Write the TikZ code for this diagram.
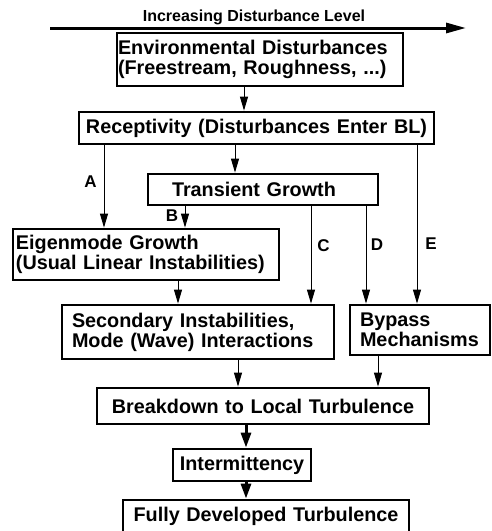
\documentclass[tikz,border=0pt]{standalone}
\usepackage{fontspec}
\setmainfont{Liberation Sans}
\usetikzlibrary{arrows.meta}
\begin{document}
\begin{tikzpicture}[x=1pt,y=-1pt,
  box/.style={draw, line width=2.8pt, font=\fontsize{19.8}{20}\selectfont\bfseries, inner ysep=0pt},
  conn/.style={line width=1pt, -{Triangle[length=14pt,width=8pt]}},
  thickconn/.style={line width=3pt, -{Triangle[length=15pt,width=10pt]}},
  lbl/.style={font=\fontsize{17}{17}\selectfont\bfseries, inner sep=0pt}]
\useasboundingbox (0,0) rectangle (491,531);
\clip (0,0) rectangle (491,531);

% top arrow
\node[font=\fontsize{16}{16}\selectfont\bfseries, inner sep=0pt] (title) at (254,17) {Increasing Disturbance Level};
\coordinate (ta) at (50,28);
\coordinate (tb) at (466,28);
\draw[line width=3pt, -{Triangle[length=20pt,width=10pt]}] (ta) -- (tb);

% boxes
\node[box, minimum height=53pt, text width=284pt, inner xsep=1pt, align=left] (env) at (260,59.5)
  {Environmental Disturbances\\(Freestream, Roughness, ...)};
\node[box, minimum height=32pt, text width=353pt, inner xsep=1pt, align=center] (rec) at (256.5,128)
  {Receptivity (Disturbances Enter BL)};
\node[box, minimum height=31pt, text width=182pt, inner xsep=24pt, align=left] (tra) at (263,189.5)
  {Transient Growth};
\node[box, minimum height=51pt, text width=260pt, inner xsep=3pt, align=left] (eig) at (146,254.5)
  {Eigenmode Growth\\(Usual Linear Instabilities)};
\node[box, minimum height=54pt, text width=252pt, inner xsep=10pt, align=left] (sec) at (198,332)
  {Secondary Instabilities,\\Mode (Wave) Interactions};
\node[box, minimum height=50pt, text width=120pt, inner xsep=10pt, align=left] (byp) at (420,330)
  {Bypass\\Mechanisms};
\node[box, minimum height=36pt, text width=330pt, inner xsep=1pt, align=center] (brk) at (263,406)
  {Breakdown to Local Turbulence};
\node[box, minimum height=32pt, text width=136pt, inner xsep=1pt, align=center] (int) at (242,465)
  {Intermittency};
\node[box, minimum height=33pt, text width=284pt, inner xsep=1pt, align=center] (ful) at (266,516.5)
  {Fully Developed Turbulence};

% connector x positions
\coordinate (xEnv) at (244,0);
\coordinate (xR) at (235,0);
\coordinate (xA) at (104,0);
\coordinate (xB) at (185,0);
\coordinate (xC) at (311,0);
\coordinate (xD) at (366,0);
\coordinate (xE) at (417,0);
\coordinate (xEig) at (178,0);
\coordinate (xS) at (238,0);
\coordinate (xBy) at (378,0);
\coordinate (xBr) at (246,0);

\draw[conn] (env.south -| xEnv) -- (rec.north -| xEnv);
\draw[conn] (rec.south -| xR) -- (tra.north -| xR);
\draw[conn] (rec.south -| xA) -- (eig.north -| xA);
\draw[conn] (tra.south -| xB) -- (eig.north -| xB);
\draw[conn] (tra.south -| xC) -- (sec.north -| xC);
\draw[conn] (tra.south -| xD) -- (byp.north -| xD);
\draw[conn] (rec.south -| xE) -- (byp.north -| xE);
\draw[conn] (eig.south -| xEig) -- (sec.north -| xEig);
\draw[conn] (sec.south -| xS) -- (brk.north -| xS);
\draw[conn] (byp.south -| xBy) -- (brk.north -| xBy);
\draw[thickconn] (brk.south -| xBr) -- (int.north -| xBr);
\draw[thickconn] (int.south -| xBr) -- (ful.north -| xBr);

% labels
\node[lbl] (lA) at (90.5,182) {A};
\node[lbl] (lB) at (172,216) {B};
\node[lbl] (lC) at (323.5,245.5) {C};
\node[lbl] (lD) at (377,244.5) {D};
\node[lbl] (lE) at (431,244) {E};
\end{tikzpicture}
\end{document}
